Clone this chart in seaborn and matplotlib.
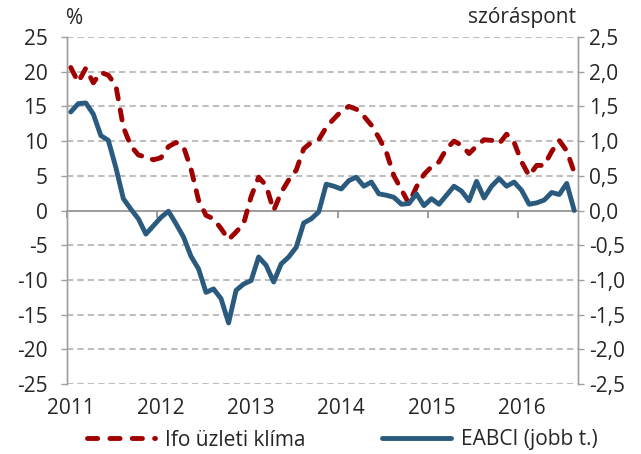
import numpy as np
import pandas as pd
import matplotlib
matplotlib.use("Agg")
import matplotlib.pyplot as plt
import seaborn as sns

# monthly data, Jan 2011 - Aug 2016
ifo = [20.6, 18.5, 20.5, 18.4, 19.9, 19.5, 18.0, 12.0, 9.3, 8.0, 7.7, 7.3,
       7.6, 9.2, 9.8, 9.2, 6.0, 1.5, -0.7, -1.2, -2.6, -4.2, -3.1, -1.9,
       2.0, 4.8, 3.6, 0.0, 2.6, 4.4, 5.8, 8.9, 9.8, 10.2, 12.0, 13.2,
       14.3, 15.0, 14.6, 13.6, 12.3, 10.5, 8.4, 5.0, 3.0, 1.0, 3.4, 5.2,
       6.3, 7.0, 8.9, 10.0, 9.4, 8.2, 9.3, 10.2, 10.1, 9.6, 11.0, 9.8,
       7.0, 5.0, 6.5, 6.5, 8.5, 10.1, 8.6, 5.5]
eabci = [1.42, 1.54, 1.55, 1.39, 1.08, 1.01, 0.62, 0.17, 0.02, -0.12, -0.34, -0.22,
         -0.10, -0.01, -0.19, -0.38, -0.66, -0.84, -1.18, -1.13, -1.27, -1.62, -1.15, -1.06,
         -1.01, -0.67, -0.79, -1.03, -0.77, -0.67, -0.53, -0.18, -0.12, -0.02, 0.38, 0.35,
         0.31, 0.43, 0.48, 0.35, 0.41, 0.24, 0.22, 0.19, 0.09, 0.10, 0.24, 0.07,
         0.17, 0.09, 0.22, 0.35, 0.28, 0.14, 0.42, 0.18, 0.35, 0.46, 0.35, 0.41,
         0.29, 0.09, 0.11, 0.15, 0.26, 0.23, 0.39, 0.00]
years = ["2011", "2012", "2013", "2014", "2015", "2016"]
left_ticks = list(range(-25, 30, 5))
right_ticks = [t / 10 for t in left_ticks]

df = pd.DataFrame({"m": np.arange(len(ifo)), "ifo": ifo, "eabci": eabci})

red = "#A00000"
blue = "#2A5B7F"
grid_c = "#BFBFBF"
axis_c = "#A0A0A0"
fs = 15

sns.set_theme(style="white")
plt.rcParams["font.family"] = ["Open Sans", "DejaVu Sans"]
plt.rcParams["font.size"] = fs

fig = plt.figure(figsize=(6.41, 4.54), dpi=100)
ax = fig.add_axes([67 / 641, 1 - 384 / 454, (578 - 67) / 641, (384 - 37) / 454])
ax2 = ax.twinx()

# grid lines (dashed), zero line solid
for t in left_ticks:
    if t == 0:
        continue
    ax.axhline(t, color=grid_c, lw=1.5, ls=(0, (3, 2)), zorder=0)

sns.lineplot(data=df, x="m", y="ifo", ax=ax, color=red, lw=3.5,
             label="Ifo üzleti klíma", legend=False, zorder=3)
ax.lines[-1].set_dashes((2.1, 2.3))
ax.lines[-1].set_dash_capstyle("round")
sns.lineplot(data=df, x="m", y="eabci", ax=ax2, color=blue, lw=3.5,
             label="EABCI (jobb t.)", legend=False, zorder=3)
ax2.lines[-1].set_solid_joinstyle("round")

# categories sit between tick marks
ax.set_xlim(-0.5, len(ifo) - 0.5)
ax.set_ylim(-25, 25)
ax2.set_ylim(-2.5, 2.5)
ax.set_yticks(left_ticks)
ax.set_yticklabels([str(t) for t in left_ticks])
ax2.set_yticks(right_ticks)
ax2.set_yticklabels([f"{t:.1f}".replace(".", ",") for t in right_ticks])

ax.set_xticks(range(0, 72, 12))
ax.set_xticklabels(years)
ax.set_xticks([-0.5 + 12 * k for k in range(6)], minor=True)
ax.spines["bottom"].set_position(("data", 0))
ax.spines["top"].set_visible(False)
ax2.spines["top"].set_visible(False)
ax2.spines["bottom"].set_visible(False)
for a in (ax, ax2):
    for s in ("left", "right"):
        a.spines[s].set_color(axis_c)
        a.spines[s].set_linewidth(1.0)
ax.spines["bottom"].set_color("#8C8C8C")
ax.spines["bottom"].set_linewidth(1.2)

ax.tick_params(axis="x", which="major", length=0, pad=135, labelsize=fs)
ax.tick_params(axis="x", which="minor", direction="out", length=5, width=1.2,
               color="#8C8C8C", bottom=True)
ax.tick_params(axis="y", direction="out", length=4, width=1.0, color=axis_c,
               pad=10, labelsize=fs, left=True)
ax2.tick_params(axis="y", direction="out", length=4, width=1.0, color=axis_c,
                pad=4, labelsize=fs, right=True)
ax.set_xlabel("")
ax.set_ylabel("")
ax2.set_ylabel("")
ax.set_facecolor("none")
ax2.set_facecolor("none")

fig.text(75 / 641, 1 - 18 / 454, "%", ha="center", va="center", fontsize=fs)
fig.text(576 / 641, 1 - 18 / 454, "szóráspont", ha="right", va="center", fontsize=fs)

h1 = ax.lines[-1]
h2 = ax2.lines[-1]
leg = fig.legend([h1, h2], ["Ifo üzleti klíma", "EABCI (jobb t.)"], loc="center",
                 bbox_to_anchor=(342 / 641, 1 - 440 / 454), ncol=2, frameon=False,
                 handlelength=3.3, handletextpad=0.45, columnspacing=3.7, fontsize=fs)
leg.get_lines()[0].set_dashes((2.1, 2.5))

fig.savefig("out.png", dpi=100)
